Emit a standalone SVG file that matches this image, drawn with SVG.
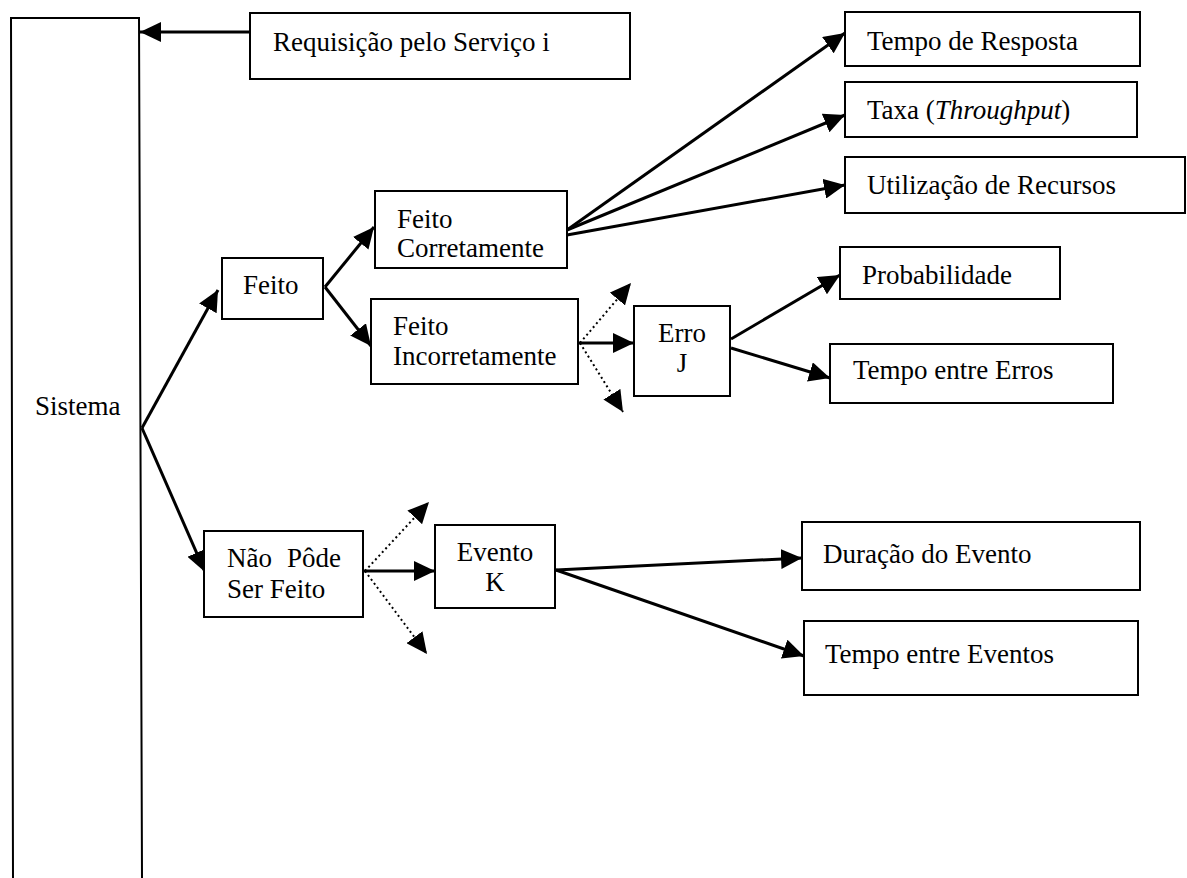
<svg xmlns="http://www.w3.org/2000/svg" width="1187" height="878" viewBox="0 0 1187 878">
  <style>
    .box { fill: #fff; stroke: #000; stroke-width: 2; }
    .lbl { font-family: "Liberation Serif", "Times New Roman", serif; font-size: 27px; fill: #000; }
    .mid { text-anchor: middle; }
    .link { fill: none; stroke: #000; stroke-width: 3; marker-end: url(#head); }
    .dots { fill: none; stroke: #000; stroke-width: 2; stroke-dasharray: 2 3; marker-end: url(#head); }
  </style>
  <defs>
    <marker id="head" markerUnits="userSpaceOnUse" viewBox="0 0 21 20" markerWidth="21" markerHeight="20" refX="21" refY="10" orient="auto">
      <path d="M0,0 L21,10 L0,20 z" fill="#000"/>
    </marker>
  </defs>
  <rect width="1187" height="878" fill="#fff"/>

  <!-- connectors -->
  <g id="connectors">
    <line class="link" x1="250" y1="32" x2="140" y2="32"/>
    <line class="link" x1="142" y1="428" x2="218" y2="290"/>
    <line class="link" x1="142" y1="428" x2="205" y2="572"/>
    <line class="link" x1="325" y1="287" x2="374" y2="227"/>
    <line class="link" x1="325" y1="287" x2="371" y2="346"/>
    <line class="link" x1="567" y1="230" x2="845" y2="33"/>
    <line class="link" x1="567" y1="230" x2="845" y2="115"/>
    <line class="link" x1="567" y1="235" x2="845" y2="185"/>
    <line class="link" x1="579" y1="343" x2="634" y2="343"/>
    <line class="dots" x1="580" y1="343" x2="631" y2="283"/>
    <line class="dots" x1="580" y1="343" x2="623" y2="412"/>
    <line class="link" x1="731" y1="339" x2="840" y2="275"/>
    <line class="link" x1="731" y1="348" x2="830" y2="378"/>
    <line class="link" x1="364" y1="571" x2="435" y2="571"/>
    <line class="dots" x1="365" y1="571" x2="429" y2="502"/>
    <line class="dots" x1="365" y1="571" x2="427" y2="654"/>
    <line class="link" x1="556" y1="570" x2="802" y2="558"/>
    <line class="link" x1="556" y1="570" x2="804" y2="656"/>
  </g>

  <!-- system column, open at the bottom -->
  <g id="sistema">
    <path d="M13,878 L11,18 L139,18 L142,878" fill="none" stroke="#000" stroke-width="2"/>
    <text class="lbl" x="35" y="415">Sistema</text>
  </g>

  <g id="requisicao">
    <rect class="box" x="250" y="13" width="380" height="66"/>
    <text class="lbl" x="273" y="51">Requisição pelo Serviço i</text>
  </g>

  <g id="feito">
    <rect class="box" x="222" y="258" width="101" height="61"/>
    <text class="lbl" x="243" y="294">Feito</text>
  </g>

  <g id="feito-corretamente">
    <rect class="box" x="375" y="191" width="192" height="77"/>
    <text class="lbl" x="397" y="228">Feito</text>
    <text class="lbl" x="397" y="257">Corretamente</text>
  </g>

  <g id="feito-incorretamente">
    <rect class="box" x="371" y="299" width="207" height="85"/>
    <text class="lbl" x="393" y="335">Feito</text>
    <text class="lbl" x="393" y="365">Incorretamente</text>
  </g>

  <g id="erro-j">
    <rect class="box" x="634" y="306" width="96" height="90"/>
    <text class="lbl mid" x="682" y="342">Erro</text>
    <text class="lbl mid" x="682" y="372">J</text>
  </g>

  <g id="nao-pode">
    <rect class="box" x="204" y="531" width="159" height="86"/>
    <text class="lbl" x="227" y="567">Não</text>
    <text class="lbl" x="287" y="567">Pôde</text>
    <text class="lbl" x="227" y="598">Ser Feito</text>
  </g>

  <g id="evento-k">
    <rect class="box" x="435" y="525" width="120" height="83"/>
    <text class="lbl mid" x="495" y="561">Evento</text>
    <text class="lbl mid" x="495" y="591">K</text>
  </g>

  <g id="tempo-resposta">
    <rect class="box" x="845" y="12" width="295" height="54"/>
    <text class="lbl" x="867" y="50">Tempo de Resposta</text>
  </g>

  <g id="taxa">
    <rect class="box" x="845" y="82" width="292" height="55"/>
    <text class="lbl" x="867" y="119">Taxa (<tspan font-style="italic">Throughput</tspan>)</text>
  </g>

  <g id="utilizacao">
    <rect class="box" x="845" y="157" width="340" height="56"/>
    <text class="lbl" x="867" y="194">Utilização de Recursos</text>
  </g>

  <g id="probabilidade">
    <rect class="box" x="840" y="247" width="220" height="52"/>
    <text class="lbl" x="862" y="284">Probabilidade</text>
  </g>

  <g id="tempo-erros">
    <rect class="box" x="830" y="344" width="283" height="59"/>
    <text class="lbl" x="853" y="379">Tempo entre Erros</text>
  </g>

  <g id="duracao-evento">
    <rect class="box" x="802" y="522" width="338" height="68"/>
    <text class="lbl" x="823" y="563">Duração do Evento</text>
  </g>

  <g id="tempo-eventos">
    <rect class="box" x="804" y="621" width="334" height="74"/>
    <text class="lbl" x="825" y="663">Tempo entre Eventos</text>
  </g>
</svg>
